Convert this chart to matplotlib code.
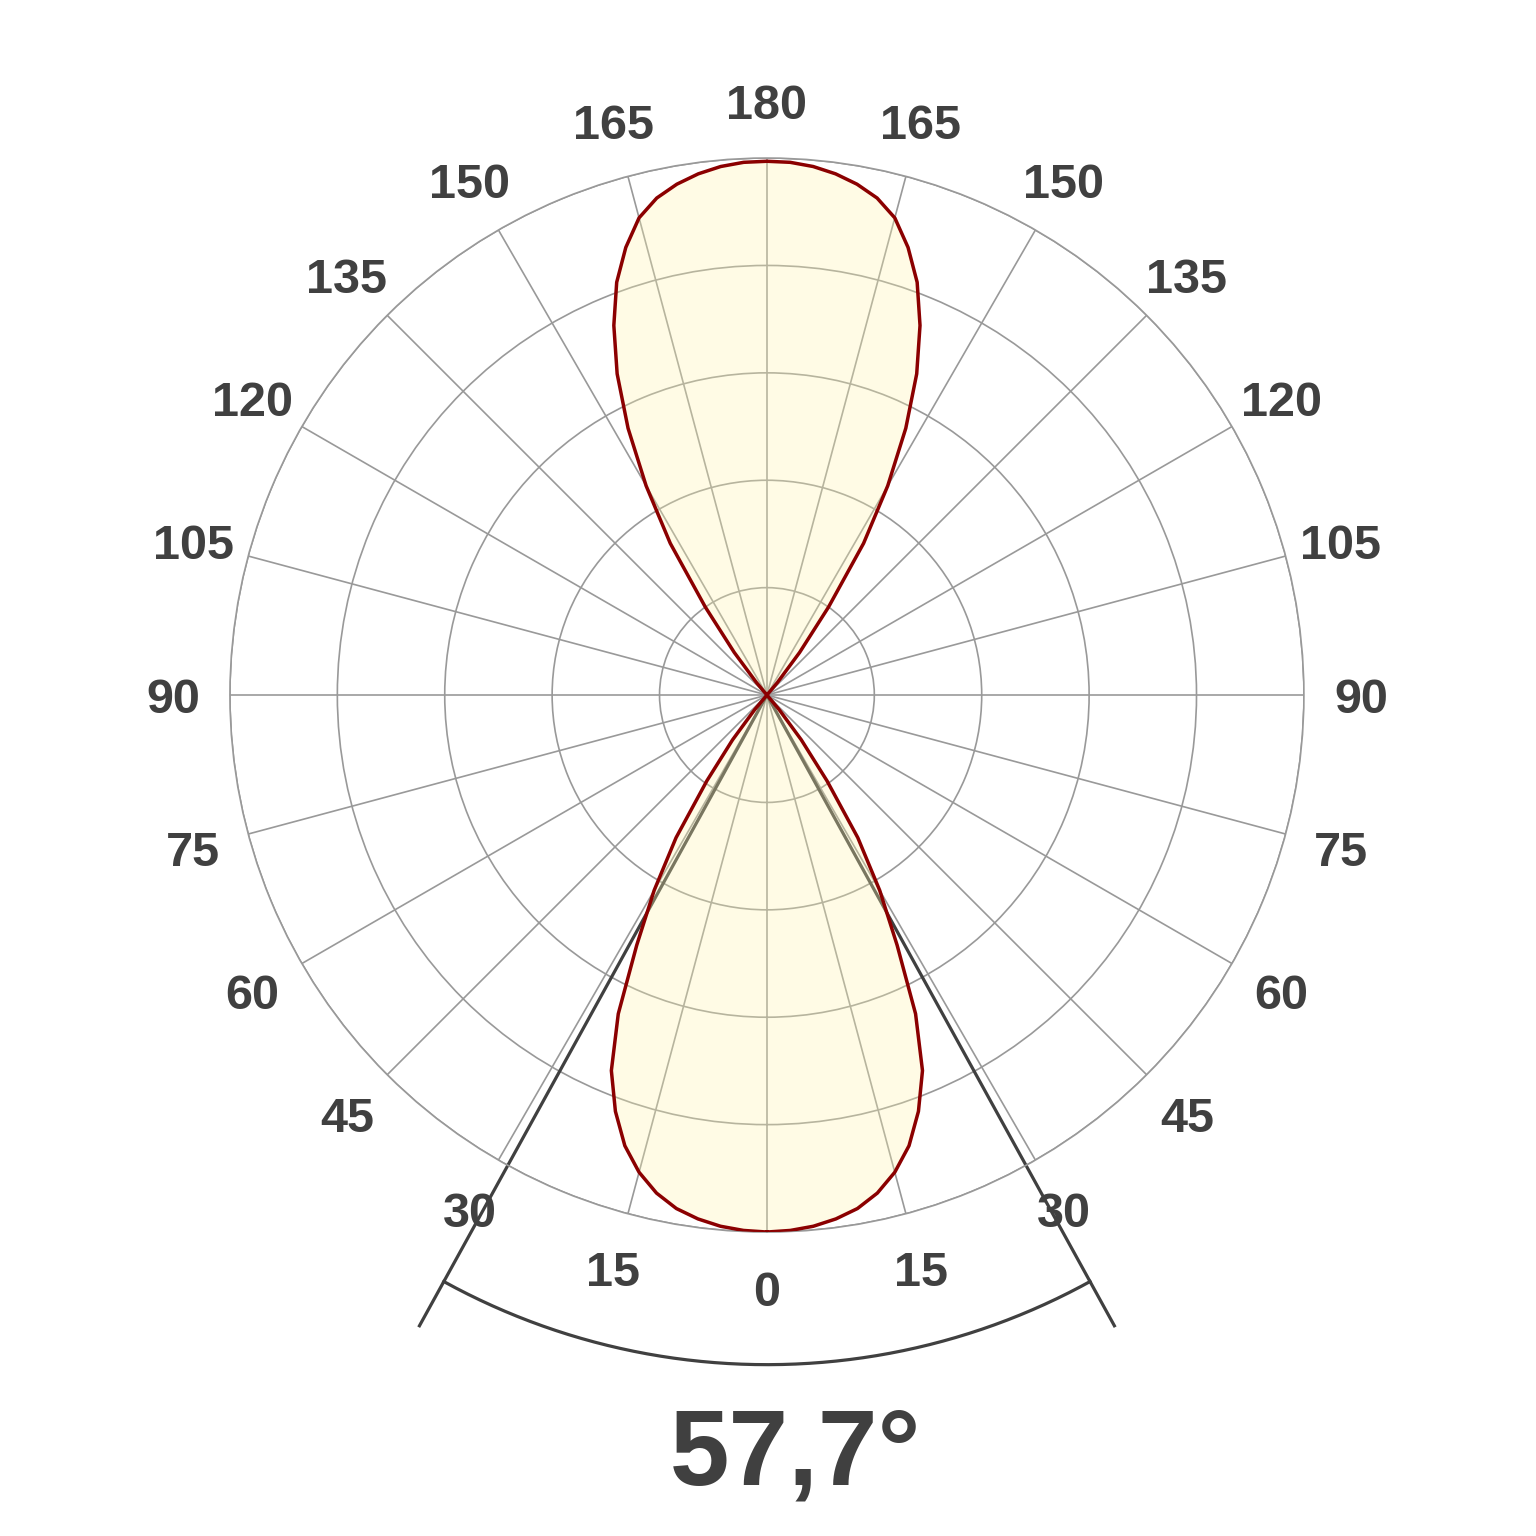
import numpy as np
import matplotlib
matplotlib.use("Agg")
import matplotlib.pyplot as plt

# ---- data (relative luminous intensity) ----
gamma_deg = [0, 2.5, 5, 7.5, 10, 12.5, 15, 17.5, 20, 22.5, 25, 27.5, 30, 32.5, 35, 37.5, 40, 42.5,
             90,
             137.5, 140, 142.5, 145, 147.5, 150, 152.5, 155, 157.5, 160, 162.5, 165, 167.5, 170, 172.5, 175, 177.5, 180]
intensity = [1.000, 0.998, 0.993, 0.984, 0.971, 0.950, 0.920, 0.880, 0.825, 0.757, 0.655, 0.525, 0.420, 0.315, 0.195, 0.105, 0.035, 0.0,
             0.0,
             0.0, 0.030, 0.100, 0.200, 0.335, 0.450, 0.560, 0.660, 0.745, 0.818, 0.874, 0.920, 0.948, 0.966, 0.979, 0.988, 0.993, 0.994]
beam_angle = 57.7
beam_label = "57,7°"
tick_angles = [0, 15, 30, 45, 60, 75, 90, 105, 120, 135, 150, 165, 180]
ring_values = [0.2, 0.4, 0.6, 0.8, 1.0]

TXT = "#404040"
GRID = "#999999"

plt.rcParams['font.family'] = ['Liberation Sans', 'DejaVu Sans']

fig = plt.figure(figsize=(15.36, 15.36), dpi=100)
ax = fig.add_axes([0.1497, 0.1979, 0.6992, 0.6992], projection='polar')
ax.set_theta_zero_location('S')
ax.set_theta_direction(1)
ax.set_rlim(0, 1.0)

# grids
theta_grid = list(range(0, 360, 15))
ax.set_thetagrids(theta_grid, labels=[''] * len(theta_grid))
ax.set_rgrids(ring_values, labels=[''] * len(ring_values))
ax.grid(True, color=GRID, linewidth=1.2)
ax.spines['polar'].set_color(GRID)
ax.spines['polar'].set_linewidth(1.2)
ax.tick_params(axis='both', length=0)

# curve: right half (gamma ascending) + left half (gamma descending)
g = np.array(gamma_deg, dtype=float)
I = np.array(intensity, dtype=float)
th = np.concatenate([np.radians(g), np.radians(360 - g[::-1])])
rr = np.concatenate([I, I[::-1]])
ax.fill(th, rr, facecolor=(1.0, 0.96, 0.67), alpha=0.3, edgecolor='none', zorder=3)
ax.plot(th, rr, color='#8B0000', linewidth=2.5, zorder=4, solid_joinstyle='round')

# beam angle lines and arc
half = np.radians(beam_angle / 2)
for t in (half, -half):
    ax.plot([t, t], [0, 1.344], color=TXT, linewidth=2.3, clip_on=False, zorder=2,
            solid_capstyle='butt')
arc_t = np.linspace(-half, half, 200)
ax.plot(arc_t, np.full_like(arc_t, 1.247), color=TXT, linewidth=2.3, clip_on=False, zorder=2)

# angle labels
for a in tick_angles:
    for t in ({a, 360 - a} if a not in (0, 180) else {a}):
        ax.text(np.radians(t), 1.106, str(a), ha='center', va='center_baseline',
                fontsize=35, fontweight='bold', color=TXT, clip_on=False, zorder=5)

fig.text(0.5176, 0.0515, beam_label, ha='center', va='center', fontsize=77,
         fontweight='bold', color=TXT)

fig.savefig('out.png', dpi=100, facecolor='white')
